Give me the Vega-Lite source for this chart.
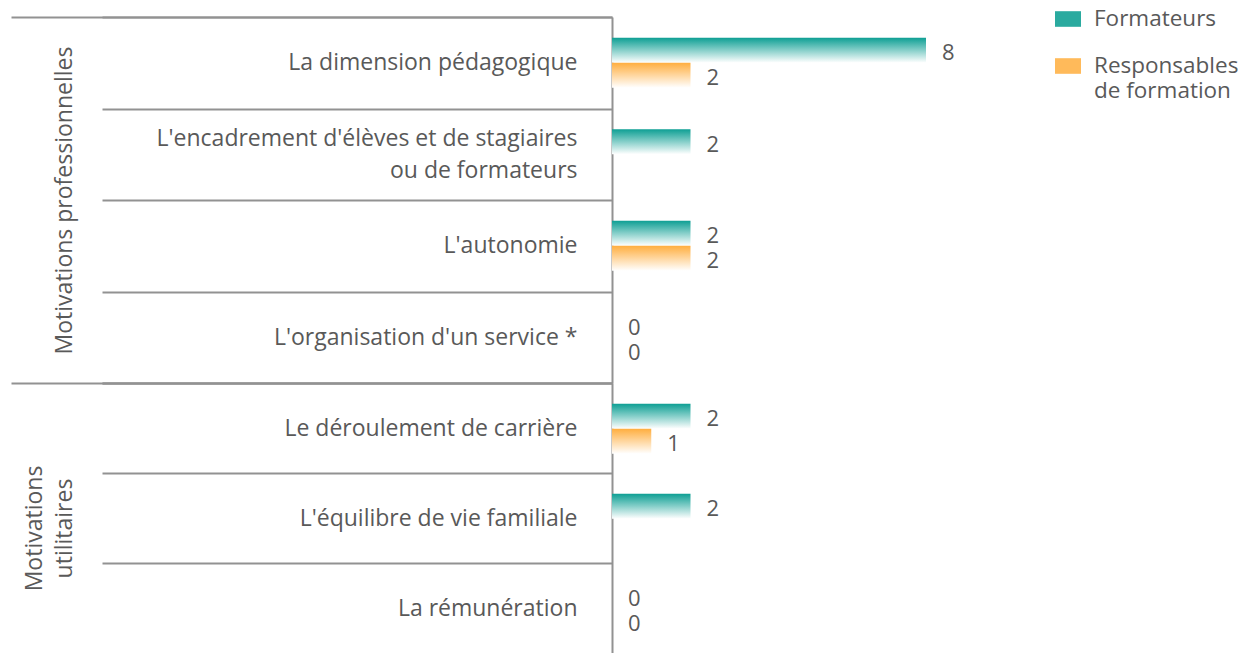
{
  "$schema": "https://vega.github.io/schema/vega-lite/v6.json",
  "padding": {"left": 10, "top": 6, "right": 0, "bottom": 0},
  "autosize": {"type": "pad"},
  "spacing": 0,
  "bounds": "flush",
  "config": {"view": {"stroke": null}, "font": "Open Sans", "concat": {"spacing": 0}},
  "datasets": {
    "rows": [
      {"group": "pro", "cat": "La dimension pédagogique", "series": "Formateurs", "value": 8},
      {"group": "pro", "cat": "La dimension pédagogique", "series": "Responsables de formation", "value": 2},
      {"group": "pro", "cat": "L'encadrement d'élèves et de stagiaires ou de formateurs", "series": "Formateurs", "value": 2},
      {"group": "pro", "cat": "L'autonomie", "series": "Formateurs", "value": 2},
      {"group": "pro", "cat": "L'autonomie", "series": "Responsables de formation", "value": 2},
      {"group": "pro", "cat": "L'organisation d'un service *", "series": "Formateurs", "value": 0},
      {"group": "pro", "cat": "L'organisation d'un service *", "series": "Responsables de formation", "value": 0},
      {"group": "uti", "cat": "Le déroulement de carrière", "series": "Formateurs", "value": 2},
      {"group": "uti", "cat": "Le déroulement de carrière", "series": "Responsables de formation", "value": 1},
      {"group": "uti", "cat": "L'équilibre de vie familiale", "series": "Formateurs", "value": 2},
      {"group": "uti", "cat": "La rémunération", "series": "Formateurs", "value": 0},
      {"group": "uti", "cat": "La rémunération", "series": "Responsables de formation", "value": 0}
    ]
  },
  "vconcat": [
    {
      "width": 392.5,
      "height": 366,
      "data": {"name": "rows"},
      "transform": [{"filter": "datum.group === 'pro'"}],
      "resolve": {"axis": {"y": "independent"}},
      "layer": [
        {
          "mark": {"type": "bar", "strokeWidth": 0},
          "encoding": {
            "y": {"field": "cat", "type": "nominal", "sort": null,
              "scale": {"paddingInner": 0, "paddingOuter": 0},
              "axis": {"orient": "left", "title": "Motivations professionnelles", "titleX": -548, "titleY": 183, "titleAngle": -90, "titleAlign": "center", "titleBaseline": "middle", "titleFontSize": 23, "titleFontWeight": "normal", "titleColor": "#595959",
                "tickBand": "extent", "tickSize": 510, "tickColor": "#929292", "tickWidth": 2,
                "labelPadding": -475, "labelFontSize": 23, "labelColor": "#595959", "labelLimit": 600, "labelLineHeight": 32,
                "labelBaseline": {"condition": {"test": "datum.value == \"L'encadrement d'élèves et de stagiaires ou de formateurs\"", "value": "line-bottom"}, "value": "middle"},
                "labelExpr": "datum.value == \"L'encadrement d'élèves et de stagiaires ou de formateurs\" ? [\"L'encadrement d'élèves et de stagiaires\", \"ou de formateurs\"] : datum.label",
                "domainColor": "#929292", "domainWidth": 2, "grid": false}},
            "yOffset": {"field": "series", "type": "nominal", "sort": ["Formateurs", "Responsables de formation"], "scale": {"domain": ["Formateurs", "Responsables de formation"], "paddingInner": 0, "paddingOuter": 0.83}},
            "x": {"field": "value", "type": "quantitative", "scale": {"domain": [0, 10]}, "axis": null},
            "color": {"condition": {"test": "datum.series === 'Formateurs'", "value": {"gradient": "linear", "x1": 0, "y1": 0, "x2": 0, "y2": 1, "stops": [{"offset": 0, "color": "#0E9F94"}, {"offset": 1, "color": "#FFFFFF"}]}},
              "value": {"gradient": "linear", "x1": 0, "y1": 0, "x2": 0, "y2": 1, "stops": [{"offset": 0, "color": "#FFAE3F"}, {"offset": 1, "color": "#FFFFFF"}]}}
          }
        },
        {
          "mark": {"type": "square", "opacity": 0},
          "encoding": {
            "y": {"field": "cat", "type": "nominal", "sort": null, "axis": null},
            "yOffset": {"field": "series", "type": "nominal", "sort": ["Formateurs", "Responsables de formation"]},
            "x": {"field": "value", "type": "quantitative"},
            "fill": {"field": "series", "type": "nominal",
              "scale": {"domain": ["Formateurs", "Responsables de formation"], "range": ["#2AAA9F", "#FFBA5A"]},
              "legend": {"orient": "none", "legendX": 443, "legendY": -11, "title": null, "labelFontSize": 22.5, "labelColor": "#595959", "labelOffset": 13, "labelLimit": 300,
                "symbolType": "M-1,-0.6H1V0.6H-1Z", "symbolSize": 676, "symbolStrokeWidth": 0, "symbolOpacity": 1, "rowPadding": 22, "labelBaseline": "middle",
                "labelExpr": "datum.value == 'Responsables de formation' ? ['Responsables', 'de formation'] : datum.label"}
            }
          }
        },
        {
          "mark": {"type": "text", "align": "left", "baseline": "middle", "dx": 16, "dy": 3, "fontSize": 22, "color": "#595959"},
          "encoding": {
            "y": {"field": "cat", "type": "nominal", "sort": null,
              "axis": {"orient": "left", "title": null, "values": ["La dimension pédagogique"], "tickOffset": -45.75, "tickSize": 601, "tickColor": "#929292", "tickWidth": 2, "labels": false, "domain": false, "grid": false}},
            "yOffset": {"field": "series", "type": "nominal", "sort": ["Formateurs", "Responsables de formation"]},
            "x": {"field": "value", "type": "quantitative"},
            "text": {"field": "value", "type": "quantitative"}
          }
        }
      ]
    },
    {
      "width": 392.5,
      "height": 270,
      "data": {"name": "rows"},
      "transform": [{"filter": "datum.group === 'uti'"}],
      "resolve": {"axis": {"y": "independent"}},
      "layer": [
        {
          "mark": {"type": "bar", "strokeWidth": 0},
          "encoding": {
            "y": {"field": "cat", "type": "nominal", "sort": null,
              "scale": {"paddingInner": 0, "paddingOuter": 0},
              "axis": {"orient": "left", "title": ["Motivations", "utilitaires"], "titleX": -578, "titleY": 145, "titleAngle": -90, "titleAlign": "center", "titleBaseline": "middle", "titleLineHeight": 30, "titleFontSize": 23, "titleFontWeight": "normal", "titleColor": "#595959",
                "tickBand": "extent", "tickSize": 510, "tickColor": "#929292", "tickWidth": 2,
                "tickOpacity": {"condition": {"test": "datum.index == 1", "value": 0}, "value": 1},
                "labelPadding": -475, "labelFontSize": 23, "labelColor": "#595959", "labelLimit": 600,
                "domainColor": "#929292", "domainWidth": 2, "grid": false}},
            "yOffset": {"field": "series", "type": "nominal", "sort": ["Formateurs", "Responsables de formation"], "scale": {"domain": ["Formateurs", "Responsables de formation"], "paddingInner": 0, "paddingOuter": 0.83}},
            "x": {"field": "value", "type": "quantitative", "scale": {"domain": [0, 10]}, "axis": null},
            "color": {"condition": {"test": "datum.series === 'Formateurs'", "value": {"gradient": "linear", "x1": 0, "y1": 0, "x2": 0, "y2": 1, "stops": [{"offset": 0, "color": "#0E9F94"}, {"offset": 1, "color": "#FFFFFF"}]}},
              "value": {"gradient": "linear", "x1": 0, "y1": 0, "x2": 0, "y2": 1, "stops": [{"offset": 0, "color": "#FFAE3F"}, {"offset": 1, "color": "#FFFFFF"}]}}
          }
        },
        {
          "mark": {"type": "text", "align": "left", "baseline": "middle", "dx": 16, "dy": 3, "fontSize": 22, "color": "#595959"},
          "encoding": {
            "y": {"field": "cat", "type": "nominal", "sort": null,
              "axis": {"orient": "left", "title": null, "values": ["Le déroulement de carrière"], "tickOffset": -45, "tickSize": 601, "tickColor": "#929292", "tickWidth": 2, "labels": false, "domain": false, "grid": false}},
            "yOffset": {"field": "series", "type": "nominal", "sort": ["Formateurs", "Responsables de formation"]},
            "x": {"field": "value", "type": "quantitative"},
            "text": {"field": "value", "type": "quantitative"}
          }
        }
      ]
    }
  ]
}
